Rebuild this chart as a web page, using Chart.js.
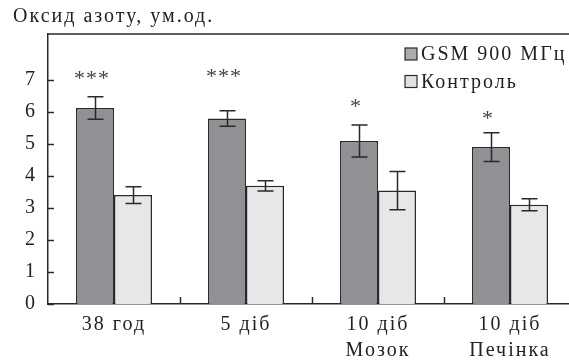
<!DOCTYPE html>
<html>
<head>
<meta charset="utf-8">
<script src="https://cdn.jsdelivr.net/npm/chart.js@4"></script>
<style>
  html, body { margin: 0; padding: 0; background: #fff; overflow: hidden; }
  #wrap { width: 600px; height: 364px; }
</style>
</head>
<body>
<div id="wrap"><canvas id="chart" width="600" height="364"></canvas></div>
<script>
// Data
const categories = [["38 год"], ["5 діб"], ["10 діб", "Мозок"], ["10 діб", "Печінка"]];
const seriesNames = ["GSM 900 МГц", "Контроль"];
const gsmValues = [6.12, 5.79, 5.09, 4.90];
const gsmErrors = [0.35, 0.24, 0.50, 0.45];
const controlValues = [3.40, 3.69, 3.54, 3.10];
const controlErrors = [0.26, 0.16, 0.60, 0.19];
const sigMarks = ["***", "***", "*", "*"];
const sigLevels = [7.15, 7.2, 6.29, 5.9];
const yTicks = [0, 1, 2, 3, 4, 5, 6, 7];
const yTitle = "Оксид азоту, ум.од.";

const FONT = "'Liberation Serif'";
const SPACING = "2px";
const INK = "#2a2a2a";
const BAR_COLORS = ["#909194", "#e6e7e9"];
const LEGEND_COLORS = ["#ababab", "#e0e0e0"];

// Wider letter spacing so the serif text runs as wide as the original
const spacingPlugin = {
  id: "spacing",
  beforeDraw(chart) {
    chart.ctx.letterSpacing = SPACING;
  }
};

// Frame: top line plus inward tick marks
const framePlugin = {
  id: "frame",
  afterDraw(chart) {
    const { ctx, chartArea: a, scales } = chart;
    ctx.save();
    ctx.strokeStyle = INK;
    ctx.lineWidth = 1.5;
    ctx.beginPath();
    ctx.moveTo(a.left, a.top);
    ctx.lineTo(a.right, a.top);
    // y ticks pointing into the plot
    yTicks.forEach(v => {
      const y = Math.round(scales.y.getPixelForValue(v)) + 0.5;
      ctx.moveTo(a.left, y);
      ctx.lineTo(a.left + 6, y);
    });
    // x ticks at category boundaries
    const xs = scales.x;
    const w = xs.getPixelForValue(1) - xs.getPixelForValue(0);
    for (let i = 1; i < categories.length; i++) {
      const x = Math.round(xs.getPixelForValue(i) - w / 2) + 0.5;
      ctx.moveTo(x, a.bottom);
      ctx.lineTo(x, a.bottom - 7);
    }
    ctx.stroke();
    ctx.restore();
  }
};

// Error bars drawn through the y scale
const errorBarPlugin = {
  id: "errorBars",
  afterDatasetsDraw(chart) {
    const { ctx, scales } = chart;
    const errs = [gsmErrors, controlErrors];
    ctx.save();
    ctx.strokeStyle = INK;
    ctx.lineWidth = 1.5;
    chart.data.datasets.forEach((ds, di) => {
      chart.getDatasetMeta(di).data.forEach((bar, i) => {
        const v = ds.data[i];
        const e = errs[di][i];
        const yTop = scales.y.getPixelForValue(v + e);
        const yBot = scales.y.getPixelForValue(v - e);
        const x = Math.round(bar.x) + 0.5;
        ctx.beginPath();
        ctx.moveTo(x, yTop);
        ctx.lineTo(x, yBot);
        ctx.moveTo(x - 8, yTop);
        ctx.lineTo(x + 8, yTop);
        ctx.moveTo(x - 8, yBot);
        ctx.lineTo(x + 8, yBot);
        ctx.stroke();
      });
    });
    ctx.restore();
  }
};

// Significance marks, title and legend
const annotationPlugin = {
  id: "annotations",
  afterDraw(chart) {
    const { ctx, scales } = chart;
    const meta = chart.getDatasetMeta(0);
    ctx.save();
    ctx.fillStyle = "#444";
    ctx.font = "22px " + FONT;
    ctx.letterSpacing = "1px";
    ctx.textAlign = "center";
    ctx.textBaseline = "alphabetic";
    sigMarks.forEach((m, i) => {
      const mt = ctx.measureText(m);
      const off = (mt.actualBoundingBoxAscent - mt.actualBoundingBoxDescent) / 2;
      const x = meta.data[i].x - 3;
      const y = scales.y.getPixelForValue(sigLevels[i]) + off;
      ctx.fillText(m, x, y);
    });

    // axis title
    ctx.fillStyle = "#222";
    ctx.font = "20px " + FONT;
    ctx.letterSpacing = SPACING;
    ctx.textAlign = "left";
    ctx.fillText(yTitle, 13, 22);

    // legend
    ctx.textBaseline = "middle";
    seriesNames.forEach((name, i) => {
      const cy = 54 + i * 27.5;
      ctx.fillStyle = LEGEND_COLORS[i];
      ctx.fillRect(405, cy - 6, 12, 12);
      ctx.strokeStyle = INK;
      ctx.lineWidth = 1.2;
      ctx.strokeRect(405, cy - 6, 12, 12);
      ctx.fillStyle = "#222";
      ctx.fillText(name, 421, cy + 1);
    });
    ctx.restore();
  }
};

new Chart(document.getElementById("chart"), {
  type: "bar",
  data: {
    labels: categories,
    datasets: [
      {
        label: seriesNames[0],
        data: gsmValues,
        backgroundColor: BAR_COLORS[0],
        borderColor: INK,
        borderWidth: 1.5,
      },
      {
        label: seriesNames[1],
        data: controlValues,
        backgroundColor: BAR_COLORS[1],
        borderColor: INK,
        borderWidth: 1.5,
      },
    ],
  },
  options: {
    responsive: false,
    animation: false,
    devicePixelRatio: 1,
    categoryPercentage: 0.576,
    barPercentage: 1,
    layout: { padding: { top: 34, right: 24, left: 0, bottom: 0 } },
    plugins: {
      legend: { display: false },
      title: { display: false },
      tooltip: { enabled: false },
    },
    scales: {
      x: {
        afterFit: s => { s.height = 60; },
        grid: { display: false, drawTicks: false },
        border: { color: INK, width: 1.5 },
        ticks: {
          color: "#222",
          font: { family: FONT, size: 20, lineHeight: 1.3 },
          padding: 8,
          maxRotation: 0,
          autoSkip: false,
        },
      },
      y: {
        min: 0,
        max: 8.43,
        afterBuildTicks: s => { s.ticks = yTicks.map(v => ({ value: v })); },
        afterFit: s => { s.width = 48; },
        grid: { display: false, drawTicks: false },
        border: { color: INK, width: 1.5 },
        ticks: {
          color: "#222",
          font: { family: FONT, size: 20 },
          padding: 11,
        },
      },
    },
  },
  plugins: [spacingPlugin, framePlugin, errorBarPlugin, annotationPlugin],
});
</script>
</body>
</html>
